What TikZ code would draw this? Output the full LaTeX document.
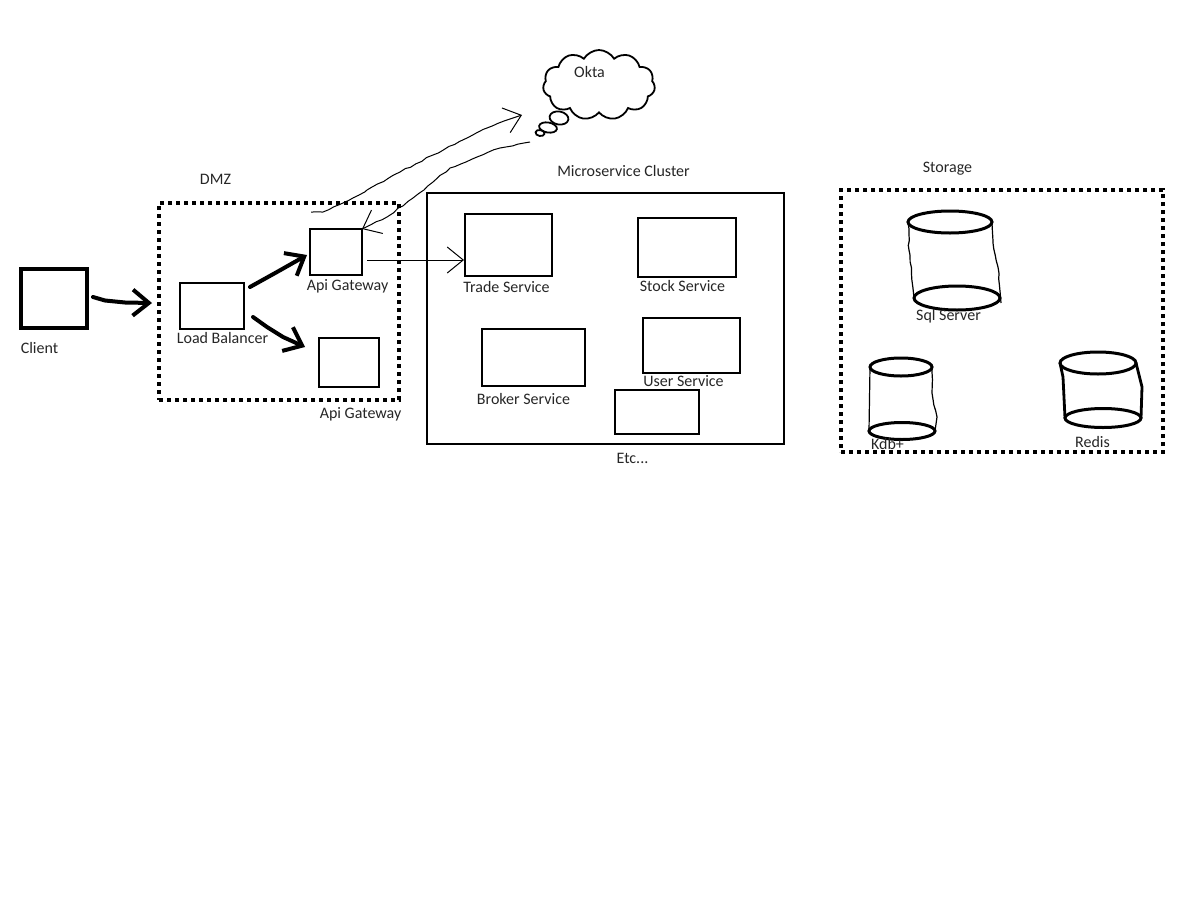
\documentclass[tikz,border=0pt]{standalone}
\usepackage{fontspec}
\setmainfont{Carlito}
\usetikzlibrary{arrows.meta,shapes.geometric,shapes.symbols,decorations.pathmorphing}
\tikzset{
lbl/.style={font=\fontsize{8}{10}\selectfont,text=black!85,inner sep=0pt,text height=6.2pt,text depth=1.4pt,yshift=-.5pt,xshift=.25pt},
box/.style={draw,line width=.8pt,inner sep=0pt,outer sep=0pt},
zone/.style={draw,line width=2pt,dash pattern=on 2pt off 2pt,inner sep=0pt,outer sep=0pt},
disc/.style={draw,ellipse,fill=white,line width=1.5pt,inner sep=0pt,outer sep=0pt},
shaky/.style={decorate,decoration={random steps,segment length=3pt,amplitude=.35pt,post length=5pt}},
wall/.style={line width=.6pt,shaky},
thickwall/.style={line width=1.4pt},
heavy/.style={line width=2pt,line join=round,line cap=round,-{Straight Barb[length=8pt,width=13pt]}},
fine/.style={line width=.5pt,line join=round,-{Straight Barb[length=8pt,width=13pt]}}
}
\begin{document}
\begin{tikzpicture}[x=.5pt,y=-.5pt]
\useasboundingbox (0,0) rectangle (1200,900);
\node[box,line width=2pt,minimum width=33pt,minimum height=29.5pt] (client) at (54,298) {};
\node[zone,minimum width=120pt,minimum height=98.5pt] (dmz) at (279,301.5) {};
\node[box,minimum width=32pt,minimum height=23pt] (balancer) at (212,306) {};
\node[box,minimum width=26pt,minimum height=23pt] (gwa) at (336,252) {};
\node[box,minimum width=30pt,minimum height=24.5pt] (gwb) at (349,362.5) {};
\node[box,minimum width=178.5pt,minimum height=125.5pt] (cluster) at (605.5,318.5) {};
\node[box,minimum width=43.5pt,minimum height=31pt] (trade) at (508.5,245) {};
\node[box,minimum width=49pt,minimum height=29.5pt] (stock) at (687,247.5) {};
\node[box,minimum width=51.5pt,minimum height=28.5pt] (broker) at (533.5,357.5) {};
\node[box,minimum width=48.5pt,minimum height=27.5pt] (user) at (691.5,345.5) {};
\node[box,minimum width=42pt,minimum height=22pt] (misc) at (657,412) {};
\node[zone,minimum width=161pt,minimum height=131pt] (storage) at (1002,321) {};
\node[cloud,draw,line width=.9pt,cloud puffs=11,cloud puff arc=120,aspect=1.6,minimum width=56pt,minimum height=35pt,inner sep=0pt] (okta) at (599,85) {};
\node[draw,ellipse,line width=.9pt,rotate=-10,minimum width=9.5pt,minimum height=6.5pt,inner sep=0pt] (puffa) at (559,118) {};
\node[draw,ellipse,line width=.9pt,rotate=-10,minimum width=9pt,minimum height=5pt,inner sep=0pt] (puffb) at (548,127.5) {};
\node[draw,ellipse,line width=.9pt,rotate=-10,minimum width=4.5pt,minimum height=3pt,inner sep=0pt] (puffc) at (540,133) {};

\node[disc,minimum width=42pt,minimum height=11pt] (sqltop) at (950,222) {};
\node[disc,minimum width=43pt,minimum height=12pt] (sqlbot) at (957,298) {};
\node[disc,minimum width=31pt,minimum height=9pt] (kdbtop) at (901,367) {};
\node[disc,minimum width=33pt,minimum height=8.5pt] (kdbbot) at (902,431) {};
\node[disc,minimum width=38pt,minimum height=11pt] (redistop) at (1098,363) {};
\node[disc,minimum width=38pt,minimum height=9.5pt] (redisbot) at (1103,418) {};
\draw[wall] (sqltop.west) -- (909,250) -- (sqlbot.west);
\draw[wall] (sqltop.east) -- (993,243) -- (998,267) -- (1001,303);
\draw[line width=.6pt] (kdbtop.west) -- (kdbbot.west);
\draw[wall] (kdbtop.east) -- (932,393) -- (937,417) -- (kdbbot.east);
\draw[thickwall] (redistop.west) -- (1063,377) -- (redisbot.west);
\draw[thickwall] (redistop.east) -- (1142,387) -- (redisbot.east);

\node[lbl] (clientlbl) at (39,348) {Client};
\node[lbl] (dmzlbl) at (215,179) {DMZ};
\node[lbl] (balancerlbl) at (222,338) {Load Balancer};
\node[lbl] (gwalbl) at (347,285) {Api Gateway};
\node[lbl] (gwblbl) at (360,413) {Api Gateway};
\node[lbl] (clusterlbl) at (623,171) {Microservice Cluster};
\node[lbl] (tradelbl) at (506,287) {Trade Service};
\node[lbl] (stocklbl) at (682,286) {Stock Service};
\node[lbl] (brokerlbl) at (523,399) {Broker Service};
\node[lbl] (userlbl) at (683,381) {User Service};
\node[lbl] (misclbl) at (632,458) {Etc...};
\node[lbl] (storagelbl) at (947,167) {Storage};
\node[lbl] (sqllbl) at (948,315) {Sql Server};
\node[lbl] (kdblbl) at (887,444) {Kdb+};
\node[lbl] (redislbl) at (1092,442) {Redis};
\node[lbl] (oktalbl) at (589,72) {Okta};

\coordinate (clientout) at (93,297);
\coordinate (dmzin) at (152,303);
\coordinate (balancerup) at (250,287);
\coordinate (gwain) at (307,255);
\coordinate (balancerdown) at (253,317);
\coordinate (gwbin) at (305,347);
\coordinate (gwaup) at (311,212);
\coordinate (oktain) at (522,115);
\coordinate (oktaout) at (530,142);
\coordinate (gwaout) at (367,260);
\coordinate (tradein) at (464,260);
\draw[heavy] (clientout) -- (105,300.5) -- (125,302.5) -- (dmzin);
\draw[heavy] (balancerup) -- (277,272) -- (gwain);
\draw[heavy] (balancerdown) -- (267,327) -- (283,337) -- (gwbin);
\draw[fine,shaky] (gwaup) -- (323,212) -- (343,203) -- (367,190) -- (400,172) -- (433,155) -- (467,138) -- (487,128) -- (507,120) -- (oktain);
\draw[fine,shaky] (oktaout) -- (500,148) -- (477,157) -- (450,168) -- (433,182) -- (413,198) -- (387,217) -- (gwa.north east);
\draw[fine] (gwaout) -- (tradein);
\end{tikzpicture}
\end{document}
